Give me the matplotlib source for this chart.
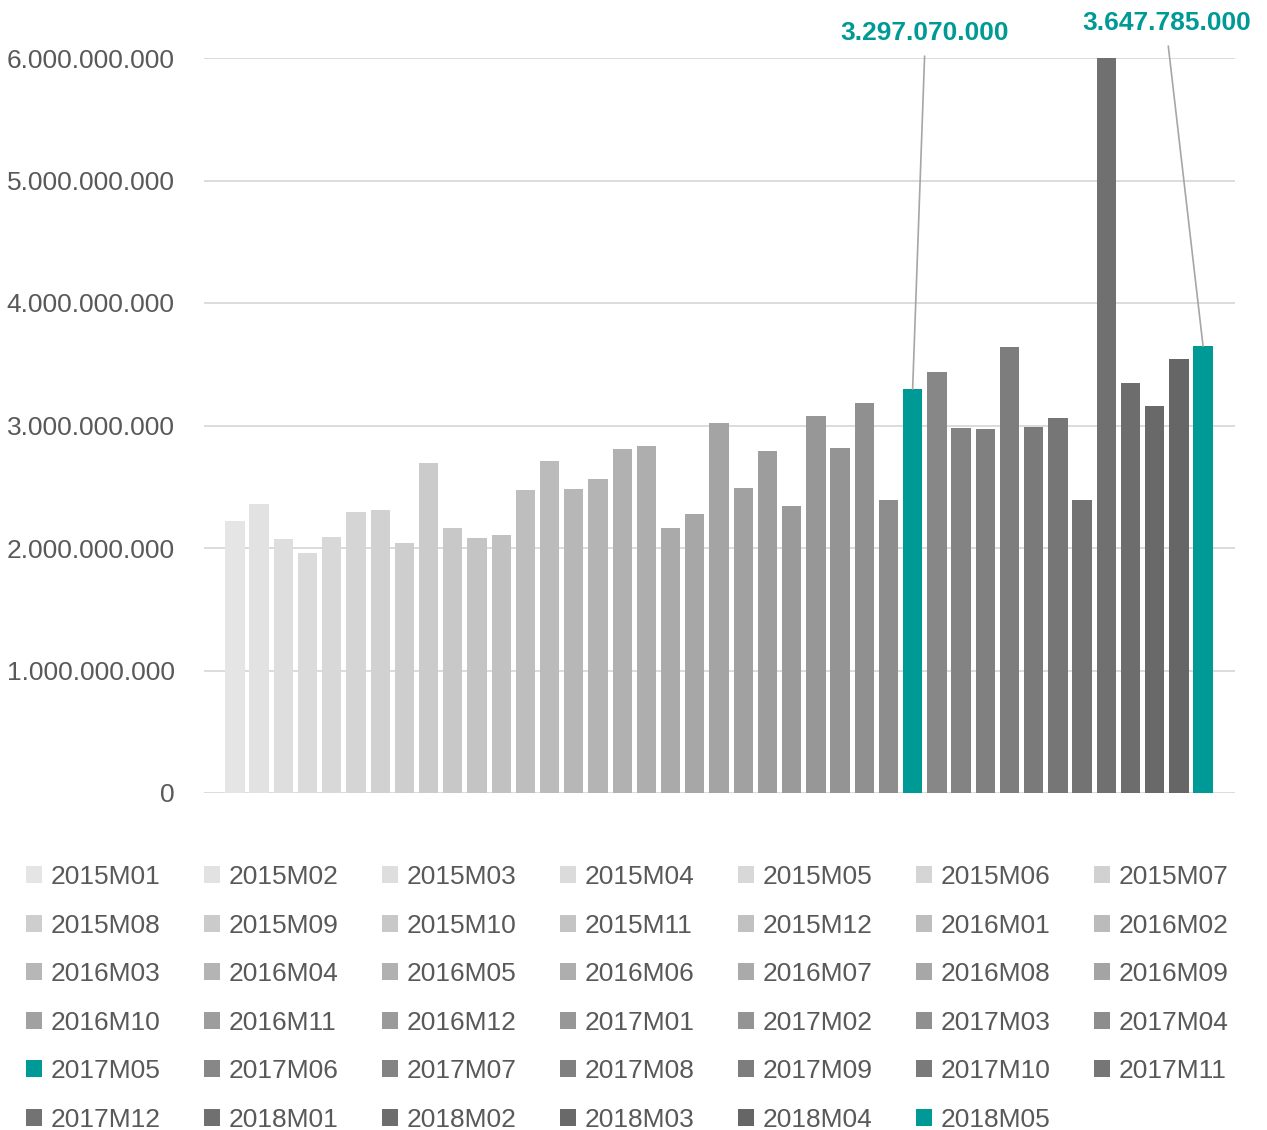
import matplotlib
matplotlib.use("Agg")
import matplotlib.pyplot as plt
from matplotlib.patches import Patch
import numpy as np

plt.rcParams['font.family'] = ['Liberation Sans', 'DejaVu Sans']

periods = ["2015M01","2015M02","2015M03","2015M04","2015M05","2015M06","2015M07",
           "2015M08","2015M09","2015M10","2015M11","2015M12","2016M01","2016M02",
           "2016M03","2016M04","2016M05","2016M06","2016M07","2016M08","2016M09",
           "2016M10","2016M11","2016M12","2017M01","2017M02","2017M03","2017M04",
           "2017M05","2017M06","2017M07","2017M08","2017M09","2017M10","2017M11",
           "2017M12","2018M01","2018M02","2018M03","2018M04","2018M05"]
values = [2.22e9, 2.36e9, 2.07e9, 1.96e9, 2.09e9, 2.29e9, 2.31e9,
          2.04e9, 2.69e9, 2.16e9, 2.08e9, 2.11e9, 2.47e9, 2.71e9,
          2.48e9, 2.56e9, 2.81e9, 2.83e9, 2.16e9, 2.28e9, 3.02e9,
          2.49e9, 2.79e9, 2.34e9, 3.08e9, 2.82e9, 3.18e9, 2.39e9,
          3297070000, 3.44e9, 2.98e9, 2.97e9, 3.64e9, 2.99e9, 3.06e9,
          2.39e9, 6.0e9, 3.35e9, 3.16e9, 3.54e9, 3647785000]
highlight = ["2017M05", "2018M05"]
yticks = [0, 1e9, 2e9, 3e9, 4e9, 5e9, 6e9]
ytick_labels = ["0", "1.000.000.000", "2.000.000.000", "3.000.000.000",
                "4.000.000.000", "5.000.000.000", "6.000.000.000"]

TEAL = "#009a96"
TXT = "#595959"
FS = 19
n = len(periods)
colors = []
for i, p in enumerate(periods):
    if p in highlight:
        colors.append(TEAL)
    else:
        g = int(round(229 - (229 - 102) * i / (n - 2)))
        colors.append("#%02x%02x%02x" % (g, g, g))

W, H = 1267, 1130
fig = plt.figure(figsize=(W / 100, H / 100), dpi=100)
ax = fig.add_axes([204 / W, 1 - 793 / H, (1235 - 204) / W, (793 - 58) / H])

x = np.arange(n)
ax.bar(x, values, width=0.8, color=colors, zorder=3)
ax.set_ylim(0, 6e9)
ax.set_xlim(-1.28, n - 1 + 1.32)
ax.set_yticks(yticks)
ax.set_yticklabels(ytick_labels)
ax.set_xticks([])
ax.tick_params(axis='y', length=0, pad=21, labelsize=FS, labelcolor=TXT)
ax.grid(axis='y', color="#d9d9d9", linewidth=1.3, zorder=0)
for s in ax.spines.values():
    s.set_visible(False)

# annotations
ann_pos = {"2017M05": (925, H - 33), "2018M05": (1167, H - 23)}
for p, (tx, ty) in ann_pos.items():
    i = periods.index(p)
    v = values[i]
    lab = f"{int(v):,}".replace(",", ".")
    ax.annotate(lab, xy=(i, v), xycoords='data', xytext=(tx, ty),
                textcoords='figure pixels', ha='center', va='center',
                fontsize=FS, fontweight='bold', color=TEAL,
                arrowprops=dict(arrowstyle='-', color="#a6a6a6", lw=1.2,
                                relpos=(0.5, 0.0), shrinkA=6, shrinkB=0))

# legend: reorder so row-major reading order
ncol = 7
nrow = int(np.ceil(n / ncol))
handles = [Patch(facecolor=c, edgecolor='none') for c in colors]
order = []
for c in range(ncol):
    for r in range(nrow):
        k = r * ncol + c
        if k < n:
            order.append(k)
leg = fig.legend([handles[k] for k in order], [periods[k] for k in order],
                 ncol=ncol, loc='upper left', bbox_to_anchor=(26 / W, 1 - 865 / H),
                 frameon=False, fontsize=FS, handlelength=0.6, handleheight=0.6,
                 handletextpad=0.32, columnspacing=1.66, labelspacing=0.93,
                 borderaxespad=0, borderpad=0)
for t in leg.get_texts():
    t.set_color(TXT)

fig.savefig("out.png", dpi=100, facecolor="white")
